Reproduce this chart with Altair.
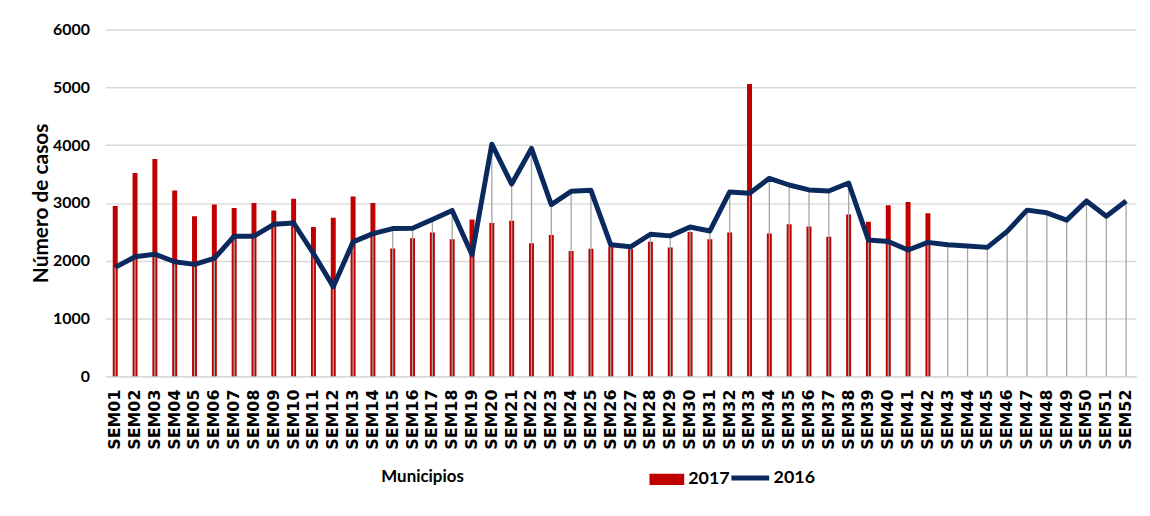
import altair as alt
import pandas as pd

weeks = [f"SEM{i:02d}" for i in range(1, 53)]

cases_2017 = [2945, 3519, 3760, 3215, 2767, 2974, 2910, 2997, 2870, 3071,
              2583, 2744, 3111, 2997, 2210, 2389, 2486, 2371, 2714, 2651,
              2691, 2303, 2446, 2166, 2206, 2240, 2200, 2326, 2229, 2497,
              2371, 2486, 5060, 2471, 2632, 2592, 2414, 2799, 2672, 2960,
              3017, 2822]

cases_2016 = [1883, 2067, 2112, 1980, 1935, 2038, 2423, 2423, 2629, 2652,
              2124, 1550, 2325, 2468, 2555, 2560, 2714, 2869, 2103, 4017,
              3326, 3943, 2971, 3200, 3217, 2274, 2240, 2457, 2429, 2583,
              2514, 3189, 3166, 3425, 3310, 3224, 3207, 3345, 2356, 2333,
              2184, 2316, 2276, 2253, 2230, 2506, 2874, 2828, 2701, 3034,
              2770, 3034]

y_ticks = [0, 1000, 2000, 3000, 4000, 5000, 6000]

df17 = pd.DataFrame({"semana": weeks[:len(cases_2017)], "casos": cases_2017, "serie": "2017"})
df16 = pd.DataFrame({"semana": weeks, "casos": cases_2016, "serie": "2016"})

RED = "#C00000"
NAVY = "#0A2A5E"
GRID = "#D9D9D9"

x_enc = alt.X(
    "semana:N",
    sort=weeks,
    scale=alt.Scale(paddingInner=0, paddingOuter=0),
    axis=alt.Axis(
        labelAngle=270,
        labelFont="DejaVu Sans",
        labelFontWeight="bold",
        labelFontSize=16,
        labelColor="black",
        labelPadding=13,
        ticks=False,
        tickSize=0,
        domain=True,
        domainColor=GRID,
        domainWidth=1.5,
        title="Municipios",
        titleFont="Lato",
        titleFontWeight="bold",
        titleFontSize=17,
        titleColor="black",
        titleX=319,
        titleY=101,
        titleAlign="center",
        titleBaseline="middle",
    ),
)

y_enc = alt.Y(
    "casos:Q",
    scale=alt.Scale(domain=[0, 6000], nice=False),
    axis=alt.Axis(
        values=y_ticks,
        format="d",
        grid=True,
        gridColor=GRID,
        gridWidth=1.5,
        domain=False,
        ticks=False,
        labelFont="Lato",
        labelFontWeight="bold",
        labelFontSize=16,
        labelColor="black",
        labelPadding=16,
        title="Número de casos",
        titleFont="Lato",
        titleFontWeight="bold",
        titleFontSize=21,
        titleColor="black",
        titleX=-64,
        titleY=174.5,
        titleAngle=270,
        titleAlign="center",
        titleBaseline="middle",
    ),
)

bars = alt.Chart(df17).mark_bar(size=5).encode(
    x=x_enc,
    y=y_enc,
    fill=alt.Fill(
        "serie:N",
        scale=alt.Scale(domain=["2017"], range=[RED]),
        legend=alt.Legend(
            title=None,
            orient="none",
            legendX=548,
            legendY=435.5,
            padding=0,
            symbolType="M-1,-0.32H1V0.32H-1Z",
            symbolSize=1225,
            symbolStrokeWidth=0,
            labelFont="Lato",
            labelFontWeight="bold",
            labelFontSize=18,
            labelColor="black",
            labelOffset=4,
        ),
    ),
)

drops = alt.Chart(df16).mark_rule(color="#A6A6A6", strokeWidth=1.3).encode(
    x=alt.X("semana:N", sort=weeks),
    y=alt.Y("casos:Q"),
    y2=alt.datum(0),
)

line = alt.Chart(df16).mark_line(strokeWidth=5, strokeJoin="round").encode(
    x=alt.X("semana:N", sort=weeks),
    y=alt.Y("casos:Q"),
    stroke=alt.Stroke(
        "serie:N",
        scale=alt.Scale(domain=["2016"], range=[NAVY]),
        legend=alt.Legend(
            title=None,
            orient="none",
            legendX=628,
            legendY=430,
            padding=0,
            symbolType="stroke",
            symbolSize=1444,
            symbolStrokeWidth=5,
            labelFont="Lato",
            labelFontWeight="bold",
            labelFontSize=18,
            labelColor="black",
            labelOffset=2,
        ),
    ),
)

chart = (
    alt.layer(bars, drops, line)
    .resolve_scale(fill="independent", stroke="independent")
    .properties(
        width=1038,
        height=349,
        autosize=alt.AutoSizeParams(type="none"),
        padding={"left": 98, "top": 20, "right": 6, "bottom": 130},
        background="white",
    )
    .configure_view(stroke=None)
)

chart.save("out.html", embed_options={"renderer": "svg", "actions": False})
